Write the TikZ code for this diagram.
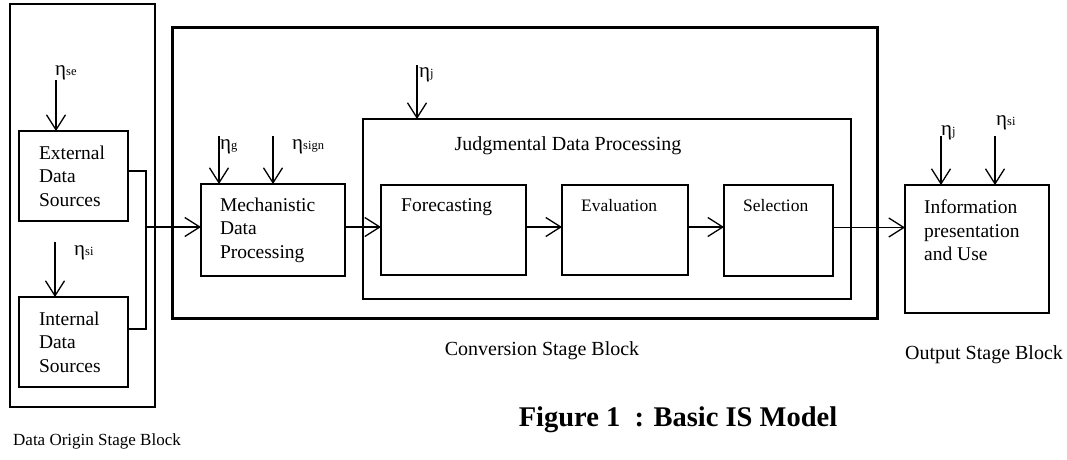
\documentclass[tikz,border=0pt]{standalone}
\usepackage{fontspec}
\setmainfont{Liberation Serif}
\usetikzlibrary{arrows.meta}
\newcommand\szmain{\fontsize{19.5}{23.5}\selectfont}
\newcommand\szsmall{\fontsize{17.5}{21}\selectfont}
\newcommand\szlab{\fontsize{20}{24}\selectfont}
\newcommand\szeta{\fontsize{21}{24}\selectfont}
\newcommand\etasub[1]{{\fontsize{12.5}{14}\selectfont #1}}
\tikzset{
  box/.style={draw, line width=1.3pt, rectangle, outer sep=0pt, inner sep=0pt, anchor=north west},
  arr/.style={line width=1.3pt, -{Straight Barb[length=15pt,width=19pt]}},
  ln/.style={line width=1.3pt},
  txt/.style={inner sep=0pt, align=left, font=\szmain},
  eta/.style={inner sep=0pt, anchor=west, font=\szeta},
}
\begin{document}
\begin{tikzpicture}[x=1pt,y=-1pt]
\useasboundingbox (0,0) rectangle (1067,459);
% blocks
\node[box, minimum width=145pt, minimum height=403pt] (origin) at (10,4) {};
\node[box, line width=3pt, minimum width=705pt, minimum height=291pt] (conv) at (172,27) {};
% data origin
\node[box, minimum width=109pt, minimum height=90pt, align=left, text width=69pt, font=\szmain] (ext) at (19,131) {External\\Data\\Sources};
\node[box, minimum width=109pt, minimum height=90pt, align=left, text width=69pt, font=\szmain] (int) at (19,297) {Internal\\Data\\Sources};
% conversion
\node[box, minimum width=144pt, minimum height=92pt, align=left, text width=106pt, font=\szmain] (mech) at (201,184) {Mechanistic\\Data\\Processing};
\node[box, minimum width=488pt, minimum height=180pt] (judg) at (363,119) {};
\node[txt, font=\szlab] (jtitle) at (568,146) {Judgmental Data Processing};
\node[box, minimum width=145pt, minimum height=90pt] (fore) at (381,185) {};
\node[box, minimum width=126pt, minimum height=90pt] (eval) at (562,185) {};
\node[box, minimum width=109pt, minimum height=91pt] (sel) at (724,185) {};
\node[txt, anchor=west] (ftxt) at (401,207) {Forecasting};
\node[txt, anchor=west, font=\szsmall] (etxt) at (581,206) {Evaluation};
\node[txt, anchor=west, font=\szsmall] (stxt) at (743,206) {Selection};
% output
\node[box, minimum width=144pt, minimum height=128pt] (info) at (905,185) {};
\node[txt, anchor=north west] (itxt) at (924,200) {Information\\presentation\\and Use};
% eta labels and arrows
\node[eta] (lse) at (55,73) {η\etasub{se}};
\coordinate (ase) at (56,80);
\draw[arr] (ase) -- (ase |- ext.north);
\node[eta] (lsi1) at (74,253) {η\etasub{si}};
\coordinate (asi1) at (55,242);
\draw[arr] (asi1) -- (asi1 |- int.north);
\node[eta] (lg) at (220,147) {η\etasub{g}};
\coordinate (ag) at (219,136);
\draw[arr] (ag) -- (ag |- mech.north);
\node[eta] (lsign) at (292,147) {η\etasub{sign}};
\coordinate (asign) at (273,136);
\draw[arr] (asign) -- (asign |- mech.north);
\node[eta] (lj1) at (419,75) {η\etasub{j}};
\coordinate (aj1) at (417,65);
\draw[arr] (aj1) -- (aj1 |- judg.north);
\node[eta] (lj2) at (941,133) {η\etasub{j}};
\coordinate (aj2) at (941,136);
\draw[arr] (aj2) -- (aj2 |- info.north);
\node[eta] (lsi2) at (996,123) {η\etasub{si}};
\coordinate (asi2) at (995,136);
\draw[arr] (asi2) -- (asi2 |- info.north);
% connectors
\coordinate (j1) at (146,171);
\coordinate (j2) at (146,329);
\coordinate (jm) at (146,227);
\draw[ln] ([yshift=5pt]ext.east) -- (j1) -- (j2) -- ([yshift=13pt]int.east);
\draw[arr] (jm) -- (jm -| mech.west);
\coordinate (m3) at ([yshift=3pt]mech.east);
\draw[arr] (m3) -- (m3 -| fore.west);
\coordinate (f3) at ([yshift=3pt]fore.east);
\draw[arr] (f3) -- (f3 -| eval.west);
\coordinate (e3) at ([yshift=3pt]eval.east);
\draw[arr] (e3) -- (e3 -| sel.west);
\coordinate (s3) at ([yshift=3pt]sel.east);
\draw[arr] (s3) -- (s3 -| info.west);
% bottom labels
\node[inner sep=0pt, font=\fontsize{17}{20}\selectfont, anchor=west] (lorigin) at (13,441) {Data Origin Stage Block};
\node[inner sep=0pt, font=\szlab] (lconv) at (542,351) {Conversion Stage Block};
\node[inner sep=0pt, font=\szlab] (lout) at (984,355) {Output Stage Block};
\node[inner sep=0pt, font=\bfseries\fontsize{28.5}{32}\selectfont] (cap) at (678,420) {Figure 1 \ : Basic IS Model};
\end{tikzpicture}
\end{document}
